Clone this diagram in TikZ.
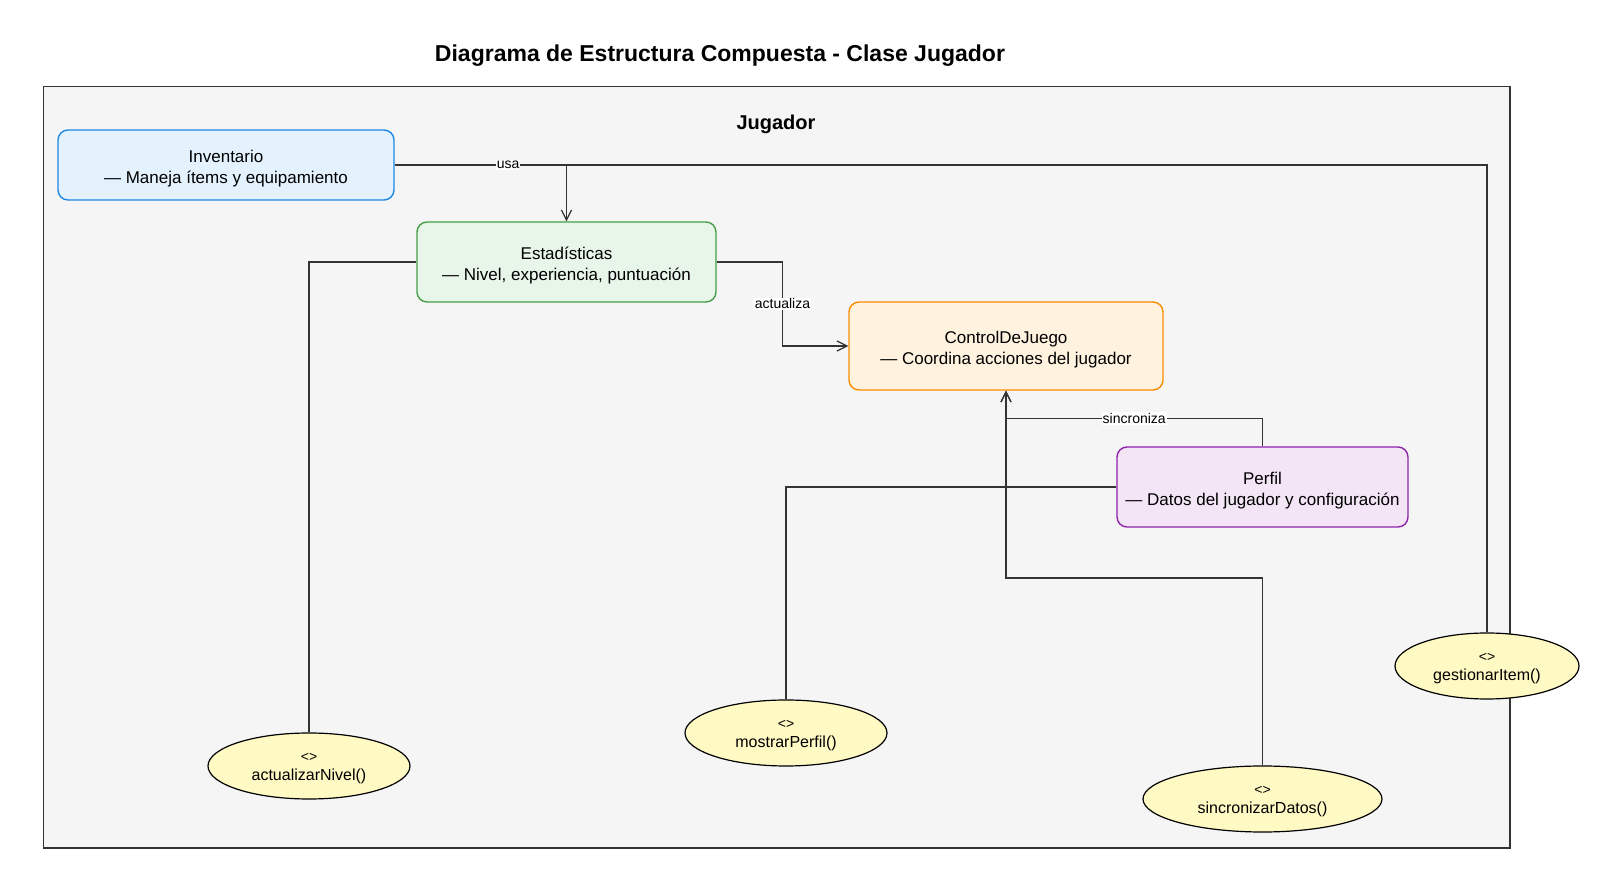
\documentclass[tikz,border=0pt]{standalone}
\usepackage{fontspec}
\setmainfont{Liberation Sans}
\usepackage{tikz}
\usetikzlibrary{shapes.geometric}
\usetikzlibrary{calc}
\usetikzlibrary{arrows.meta}

\definecolor{framefill}{HTML}{F5F5F5}
\definecolor{frameline}{HTML}{333333}
\definecolor{invfill}{HTML}{E3F2FD}
\definecolor{invline}{HTML}{1E88E5}
\definecolor{estfill}{HTML}{E8F5E9}
\definecolor{estline}{HTML}{43A047}
\definecolor{ctrlfill}{HTML}{FFF3E0}
\definecolor{ctrlline}{HTML}{FB8C00}
\definecolor{perffill}{HTML}{F3E5F5}
\definecolor{perfline}{HTML}{8E24AA}
\definecolor{opfill}{HTML}{FFF9C4}

\newcommand{\partetxt}[2]{\rule{0pt}{10pt}#1\\#2\rule[-2.1pt]{0pt}{0pt}}
\newcommand{\opertxt}[1]{{\fontsize{7}{8}\selectfont\rule{0pt}{7pt}<>}\\#1\rule[-1.8pt]{0pt}{0pt}}

\tikzset{
  part/.style={draw, rounded corners=5pt, line width=0.7pt, align=center, inner sep=0pt,
    font=\fontsize{8.5}{10.5}\selectfont},
  oper/.style={ellipse, draw=black, fill=opfill, line width=0.6pt, align=center, inner sep=0pt,
    minimum height=33pt, font=\fontsize{8}{9.5}\selectfont},
  conn/.style={draw=frameline, line width=0.6pt},
  lbl/.style={fill=white, inner sep=0.5pt, font=\fontsize{7}{8}\selectfont},
  >={Straight Barb[length=5pt,width=5pt]}
}

\begin{document}
\begin{tikzpicture}[x=0.5pt, y=-0.5pt]
  \useasboundingbox (0,0) rectangle (1602,870);

  \node [draw=frameline, fill=framefill, line width=0.8pt, minimum width=733.25pt,
    minimum height=380.65pt, inner sep=0pt] (jug) at (776.75,467.35) {};
  \node [font=\bfseries\fontsize{11.5}{14}\selectfont] (titulo) at (720,56)
    {Diagrama de Estructura Compuesta - Clase Jugador};
  \node [font=\bfseries\fontsize{10}{12}\selectfont] (jugtit) at (776,124.5) {Jugador};

  \node [part, draw=invline, fill=invfill, minimum width=168pt, minimum height=35pt]
    (inv) at (226,165) {\partetxt{Inventario}{— Maneja ítems y equipamiento}};
  \node [part, draw=estline, fill=estfill, minimum width=149.5pt, minimum height=40pt]
    (est) at (566.5,262) {\partetxt{Estadísticas}{— Nivel, experiencia, puntuación}};
  \node [part, draw=ctrlline, fill=ctrlfill, minimum width=157pt, minimum height=44pt]
    (ctrl) at (1006,346) {\partetxt{ControlDeJuego}{— Coordina acciones del jugador}};
  \node [part, draw=perfline, fill=perffill, minimum width=145.5pt, minimum height=40pt]
    (perf) at (1262.5,487) {\partetxt{Perfil}{— Datos del jugador y configuración}};

  \node [oper, minimum width=101pt] (nivel) at (309,766) {\opertxt{actualizarNivel()}};
  \node [oper, minimum width=101pt] (most) at (786,733) {\opertxt{mostrarPerfil()}};
  \node [oper, minimum width=119.5pt] (sinc) at (1262.5,799) {\opertxt{sincronizarDatos()}};
  \node [oper, minimum width=92pt] (gest) at (1487,666) {\opertxt{gestionarItem()}};

  \coordinate (k1) at ($ (est.east)!0.5!(ctrl.west) $);
  \coordinate (k2) at ($ (perf.north)!0.5!(ctrl.south) $);
  \coordinate (k3) at ($ (sinc.north)!0.5!(ctrl.south) $);

  \draw [conn] (inv.east) -| (gest.north);
  \draw [conn,->] (inv.east) -| node [lbl, pos=0.33] {usa} (est.north);
  \draw [conn] (est.west) -| (nivel.north);
  \draw [conn,->] (est.east) -| (k1) node [lbl] {actualiza} |- (ctrl.west);
  \draw [conn] (perf.west) -| (most.north);
  \draw [conn,->] (sinc.north) |- (k3) -| (ctrl.south);
  \draw [conn,->] (perf.north) |- (k2) node [lbl] {sincroniza} -| (ctrl.south);
\end{tikzpicture}
\end{document}
